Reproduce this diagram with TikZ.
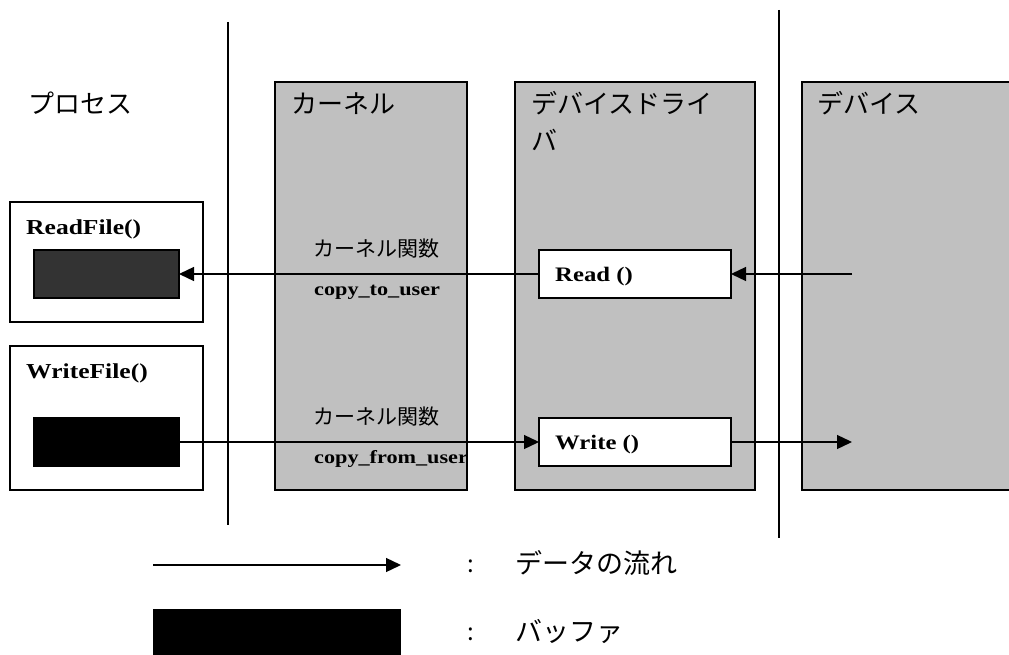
\documentclass[tikz,border=0pt]{standalone}
\usepackage{fontspec}
\setmainfont{Liberation Serif}
\newfontfamily\jp{Noto Sans CJK JP}
\newfontfamily\codefont{Liberation Serif}[FakeStretch=1.2]
\usetikzlibrary{arrows.meta}
\definecolor{panelgrey}{HTML}{C0C0C0}
\definecolor{darkbuf}{HTML}{333333}
\tikzset{
  panel/.style={draw=black,line width=1.6pt,fill=panelgrey,inner sep=0pt,outer sep=0pt},
  procbox/.style={draw=black,line width=1.6pt,fill=white,inner sep=0pt,outer sep=0pt},
  fnbox/.style={draw=black,line width=1.6pt,fill=white,inner sep=0pt,outer sep=0pt},
  buf/.style={draw=black,line width=1.4pt,inner sep=0pt,outer sep=0pt},
  flow/.style={line width=1.3pt,-{Triangle[length=15pt,width=14pt]}},
  divider/.style={line width=1.4pt},
  jptitle/.style={font=\jp\fontsize{26}{37}\selectfont,anchor=base west,inner sep=0pt},
  jplegend/.style={font=\jp\fontsize{27}{30}\selectfont,anchor=base west,inner sep=0pt},
  jpsmall/.style={font=\jp\fontsize{21}{24}\selectfont,anchor=base west,inner sep=0pt},
  code/.style={font=\codefont\bfseries\fontsize{21.3}{24}\selectfont,anchor=base west,inner sep=0pt},
  fncode/.style={font=\codefont\bfseries\fontsize{20.6}{24}\selectfont,anchor=base west,inner sep=0pt},
  kcode/.style={font=\codefont\bfseries\fontsize{18.5}{22}\selectfont,anchor=base west,inner sep=0pt},
}
\begin{document}
\begin{tikzpicture}[x=1pt,y=-1pt]
\useasboundingbox (0,0) rectangle (1009,655);
% dividers
\coordinate (d1t) at (228,22); \coordinate (d1b) at (228,525);
\coordinate (d2t) at (779,10); \coordinate (d2b) at (779,538);
\draw[divider] (d1t) -- (d1b);
\draw[divider] (d2t) -- (d2b);
% panels
\node[panel,minimum width=192pt,minimum height=408pt] (kernel) at (371,286) {};
\node[panel,minimum width=240pt,minimum height=408pt] (driver) at (635,286) {};
\node[panel,minimum width=214pt,minimum height=408pt] (device) at (909,286) {};
% titles
\node[jptitle] (tproc) at (28,114) {プロセス};
\node[jptitle] (tkern) at (291,114) {カーネル};
\node[jptitle] (tdrv) at (531,114) {デバイスドライ};
\node[jptitle] (tdrv2) at (531,151) {バ};
\node[jptitle] (tdev) at (817,114) {デバイス};
% process boxes
\node[procbox,minimum width=193pt,minimum height=120pt] (readproc) at (106.5,262) {};
\node[procbox,minimum width=193pt,minimum height=144pt] (writeproc) at (106.5,418) {};
\node[code] (lread) at (26,234) {ReadFile()};
\node[code] (lwrite) at (26,378) {WriteFile()};
\node[buf,fill=darkbuf,minimum width=145pt,minimum height=48pt] (rbuf) at (106.5,274) {};
\node[buf,fill=black,minimum width=145pt,minimum height=49pt] (wbuf) at (106.5,442) {};
% driver functions
\node[fnbox,minimum width=192pt,minimum height=48pt] (readfn) at (635,274) {};
\node[fnbox,minimum width=192pt,minimum height=48pt] (writefn) at (635,442) {};
\node[fncode] (lreadfn) at (555,281) {Read ()};
\node[fncode] (lwritefn) at (555,449) {Write ()};
% kernel labels
\node[jpsmall] (kf1) at (313,256) {カーネル関数};
\node[kcode] (cu1) at (314,295) {copy\_to\_user};
\node[jpsmall] (kf2) at (313,424) {カーネル関数};
\node[kcode] (cu2) at (314,463) {copy\_from\_user};
% flows
\coordinate (devout) at (852,274);
\coordinate (devin) at (852,442);
\draw[flow] (devout) -- (readfn.east);
\draw[flow] (readfn.west) -- (rbuf.east);
\draw[flow] (wbuf.east) -- (writefn.west);
\draw[flow] (writefn.east) -- (devin);
% legend
\coordinate (lgs) at (153,565); \coordinate (lge) at (401,565);
\draw[flow] (lgs) -- (lge);
\node[fill=black,inner sep=0pt,minimum width=248pt,minimum height=48pt] (lgbuf) at (277,633) {};
\node[font=\jp\fontsize{24}{28}\selectfont,inner sep=0pt] (c1) at (471,566) {:};
\node[jplegend] (lt1) at (515,573) {データの流れ};
\node[font=\jp\fontsize{24}{28}\selectfont,inner sep=0pt] (c2) at (471,634) {:};
\node[jplegend] (lt2) at (515,641) {バッファ};
\end{tikzpicture}
\end{document}
